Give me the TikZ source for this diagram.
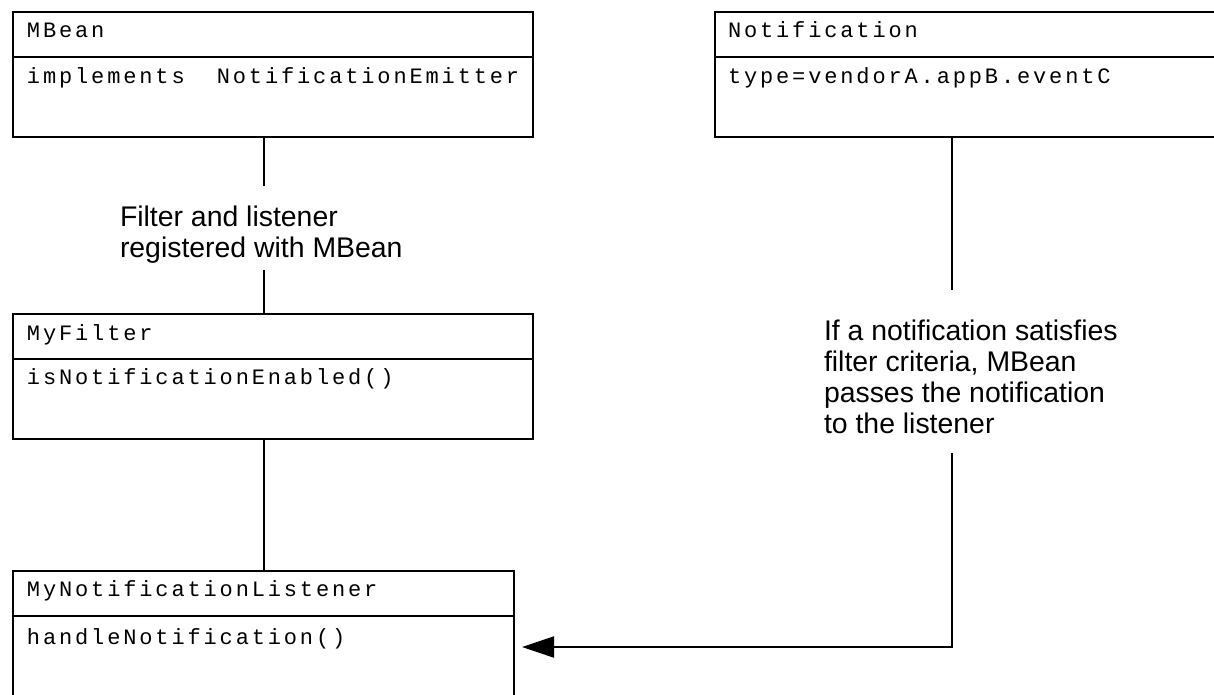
\documentclass[tikz,border=0pt]{standalone}
\usepackage{fontspec}
\setmainfont{Liberation Sans}
\newfontfamily\umlfont{Liberation Mono}[LetterSpace=13.0]
\usetikzlibrary{arrows.meta}

\begin{document}
\begin{tikzpicture}[x=1pt,y=-1pt,line width=2pt,
  every node/.style={inner sep=0pt,outer sep=0pt},
  classbox/.style={draw,rectangle,anchor=north west,minimum height=125pt},
  member/.style={anchor=base west,font=\umlfont\fontsize{22}{26}\selectfont},
  remark/.style={anchor=base west,align=left,font=\fontsize{28.4}{31}\selectfont}]
\clip (0,0) rectangle (1214,694);
\node[classbox,minimum width=520pt] (mbean) at (13,12) {};
\node[classbox,minimum width=520pt] (notif) at (715,12) {};
\node[classbox,minimum width=520pt] (filter) at (13,314) {};
\node[classbox,minimum width=501pt,minimum height=150pt] (listener) at (13,571) {};
\foreach \b in {mbean,notif,filter,listener}
  \draw ([yshift=-45pt]\b.north west) -- ([yshift=-45pt]\b.north east);

\node[member] (mbean-name) at ([shift={(14,25)}]mbean.north west) {MBean};
\node[member] (mbean-body) at ([shift={(14,71)}]mbean.north west) {implements\ \ NotificationEmitter};
\node[member] (notif-name) at ([shift={(13,25)}]notif.north west) {Notification};
\node[member] (notif-body) at ([shift={(13,71)}]notif.north west) {type=vendorA.appB.eventC};
\node[member] (filter-name) at ([shift={(14,26)}]filter.north west) {MyFilter};
\node[member] (filter-body) at ([shift={(14,70)}]filter.north west) {isNotificationEnabled()};
\node[member] (listener-name) at ([shift={(14,25)}]listener.north west) {MyNotificationListener};
\node[member] (listener-body) at ([shift={(14,73)}]listener.north west) {handleNotification()};

\node[remark] (register) at (120,257) {Filter and listener\\registered with MBean};
\node[remark] (passes) at (824,433) {If a notification satisfies\\filter criteria, MBean\\passes the notification\\to the listener};

\coordinate (reg-top) at (264,186);
\coordinate (reg-bot) at (264,270);
\coordinate (pass-top) at (952,290);
\coordinate (pass-bot) at (952,453);
\coordinate (deliver) at (522,647);
\draw (mbean.south -| reg-top) -- (reg-top);
\draw (reg-bot) -- (filter.north -| reg-bot);
\draw (filter.south -| reg-bot) -- (listener.north -| reg-bot);
\draw (notif.south -| pass-top) -- (pass-top);
\draw[-{Triangle[length=32pt,width=21pt]}] (pass-bot) |- (deliver);
\end{tikzpicture}
\end{document}
